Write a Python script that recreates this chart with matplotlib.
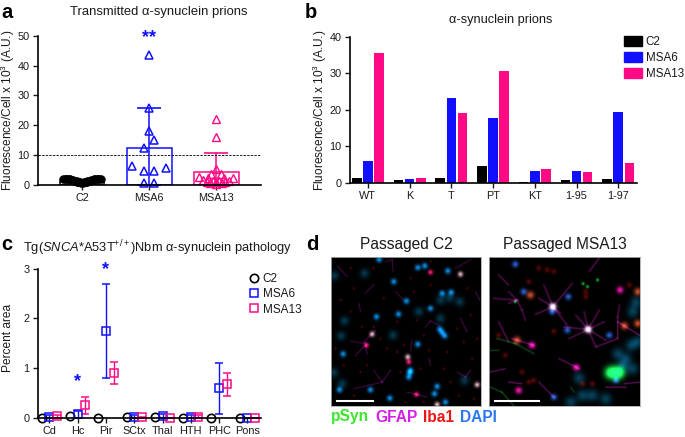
import numpy as np
import matplotlib
matplotlib.use("Agg")
import matplotlib.pyplot as plt
from matplotlib.lines import Line2D
from matplotlib.patches import Patch

plt.rcParams['font.family'] = ['Liberation Sans', 'DejaVu Sans']
plt.rcParams['mathtext.fontset'] = 'custom'
plt.rcParams['mathtext.rm'] = 'Liberation Sans'
plt.rcParams['mathtext.it'] = 'Liberation Sans:italic'
plt.rcParams['mathtext.default'] = 'regular'

BLACK = '#000000'
BLUE = '#1010FF'
PINK = '#FF0A84'
TXT = '#1a1a1a'

# panel a
a_groups = ['C2', 'MSA6', 'MSA13']
a_means = [1.4, 12.5, 4.3]
a_err_hi = [1.9, 25.7, 10.7]
c2_vals = [2.0, 2.1, 2.15, 2.1, 2.0, 1.9, 1.8, 1.6, 1.5, 1.3, 1.2, 1.1, 1.0, 0.9, 0.85, 0.8, 0.8, 0.85, 0.9, 1.0, 1.1, 1.2, 1.3, 1.5, 1.6, 1.8, 1.9, 2.0, 2.1, 2.15, 2.1, 2.0]
c2_off = [-0.28, -0.26, -0.24, -0.22, -0.2, -0.18, -0.16, -0.14, -0.12, -0.1, -0.08, -0.07, -0.06, -0.05, -0.03, -0.01, 0.01, 0.03, 0.05, 0.06, 0.07, 0.08, 0.1, 0.12, 0.14, 0.16, 0.18, 0.2, 0.22, 0.24, 0.26, 0.28]
msa6_vals = [43.5, 25.7, 18.2, 15.2, 12.5, 6.3, 5.8, 4.8, 4.8, 0.6, 0.6]
msa6_off = [0, 0, 0, 0.08, -0.08, -0.25, 0.25, -0.08, 0.08, -0.08, 0.08]
msa13_vals = [22, 16, 5.5, 3.7, 3.6, 2.6, 2.5, 2.4, 2.3, 1.6, 1.5, 1.3, 1.2, 1.1, 1.0, 0.9, 0.8, 0.6, 0.5]
msa13_off = [0, 0, 0, -0.07, 0.07, -0.25, 0.25, -0.12, 0.12, -0.19, 0.19, -0.05, 0.05, -0.14, 0.14, 0, -0.09, 0.09, 0]

# panel b
b_groups = ['WT', 'K', 'T', 'PT', 'KT', '1-95', '1-97']
b_c2 = [1.5, 0.9, 1.5, 4.6, 0.4, 0.8, 1.1]
b_msa6 = [5.9, 1.0, 23.3, 17.9, 3.4, 3.4, 19.4]
b_msa13 = [35.5, 1.3, 19.2, 30.6, 3.9, 3.0, 5.6]

# panel c
c_regions = ['Cd', 'Hc', 'Pir', 'SCtx', 'Thal', 'HTH', 'PHC', 'Pons']
c_c2 = [0.0, 0.03, 0.0, 0.02, 0.02, 0.0, 0.0, 0.0]
c_msa6 = [0.01, 0.07, 1.75, 0.02, 0.03, 0.02, 0.59, 0.0]
c_msa6_lo = [0.0, 0.0, 0.79, 0.0, 0.0, 0.0, 0.07, 0.0]
c_msa6_hi = [0.05, 0.14, 2.7, 0.05, 0.08, 0.06, 1.1, 0.0]
c_msa13 = [0.03, 0.25, 0.9, 0.01, 0.0, 0.02, 0.67, 0.0]
c_msa13_lo = [0.0, 0.08, 0.67, 0.0, 0.0, 0.0, 0.43, 0.0]
c_msa13_hi = [0.06, 0.42, 1.12, 0.02, 0.0, 0.05, 0.9, 0.0]

# panel d, spots (x, y in a 465 px crop)
l_blue = [(190,80),(228,138),(204,177),(300,160),(352,48),(362,112),(335,115),(262,267),(38,296),(120,403),(178,428),(312,415),(320,393),(27,403),(138,185),(262,38),(283,33),(146,14),(345,440),(240,345),(328,222),(335,232),(343,242),(235,365),(238,352)]
l_dim = [(12,62),(102,55),(42,197),(32,242),(188,240),(265,170),(388,140),(10,352),(402,375),(330,135),(358,128),(35,385),(330,190)]
l_pale = [(390,58),(125,237),(232,305),(440,388),(320,447)]
l_hot = [(235,320),(300,52),(258,417),(108,270)]
l_lines = [[(22,35),(50,65)],[(165,20),(185,15),(188,50)],[(130,90),(105,115)],[(195,110),(220,135)],[(285,215),(300,198),(325,210)],[(60,258),(105,265),(110,295)],[(100,260),(135,225)],[(105,270),(75,300)],[(245,255),(240,285)],[(130,345),(155,380),(180,345)],[(155,380),(70,400)],[(230,410),(290,425)],[(375,40),(420,15)],[(380,350),(405,365),(420,345)],[(435,110),(448,135)],[(390,190),(410,230)],[(295,310),(300,330)],[(85,145),(90,170)]]
l_red = [(70,100),(95,215),(130,215),(60,170),(170,280),(200,290),(220,270),(295,285),(350,290),(400,260),(425,310),(340,340),(270,340),(210,350),(90,350),(40,330),(15,280),(110,330),(160,130),(250,110),(300,90),(410,100),(420,180),(380,220),(280,240),(200,200),(30,135),(60,40),(300,20),(150,250),(70,420),(225,440),(280,440),(385,420),(430,430),(360,380),(260,195),(240,70),(130,40),(440,250)]

r_green = [(365,352),(388,352)]
r_green_dots = [(282,86),(295,95),(325,75),(80,140)]
r_green_lines = [[(25,250),(80,265),(135,295)],[(5,395),(40,410),(75,450)],[(5,285),(30,285)],[(245,395),(255,410)]]
r_white = [(192,155),(297,223)]
r_blue = [(190,170),(80,28),(238,125),(360,240),(235,225),(105,110),(195,425),(380,375)]
r_dim = [(385,295),(410,310),(430,340),(440,142),(430,170),(445,260),(270,368),(280,420),(310,420),(350,430),(245,440),(400,330),(425,270)]
r_magenta = [(392,105),(90,405),(262,336),(130,270)]
r_orange = [(125,120),(85,255),(445,205),(445,110),(405,212)]
r_lines = [[(192,155),(140,178)],[(192,155),(215,175)],[(192,155),(235,210)],[(192,155),(150,130)],[(192,155),(250,85)],[(192,155),(165,90)],[(297,223),(225,215)],[(297,223),(330,165)],[(297,223),(350,255)],[(297,223),(320,275)],[(297,223),(285,170)],[(297,223),(345,200)],[(297,223),(260,180)],[(297,223),(240,250)],[(320,275),(385,250),(385,185),(390,150)],[(385,200),(450,240)],[(85,135),(15,130)],[(85,135),(60,110)],[(85,135),(100,165),(110,195)],[(85,135),(60,145)],[(30,60),(60,90)],[(70,250),(135,270)],[(5,350),(50,340)],[(210,310),(270,340)],[(100,385),(60,380)],[(150,380),(195,425)],[(30,200),(60,260)],[(330,10),(300,50)],[(405,385),(450,380)],[(350,395),(410,395)]]
r_red = [(175,45),(120,80),(290,125),(120,380),(30,240),(310,385),(280,385),(420,90),(150,40),(195,50),(135,375),(195,228),(290,110),(50,300),(100,350)]


def px_axes(fig, x0, x1, y0, y1):
    # pixel box to figure fractions, y counted from the top
    W, H = fig.get_size_inches() * fig.dpi
    return fig.add_axes([x0 / W, 1 - y1 / H, (x1 - x0) / W, (y1 - y0) / H])


def style(ax):
    ax.spines['top'].set_visible(False)
    ax.spines['right'].set_visible(False)
    ax.spines['left'].set_linewidth(1.2)
    ax.spines['bottom'].set_linewidth(1.2)
    ax.tick_params(width=1.0, length=3.5, labelsize=7.8, colors=TXT, pad=2.5)


def add_spots(img, spots, color, sigma, gain=1.0):
    yy, xx = np.mgrid[0:155, 0:155]
    for x, y in spots:
        g = np.exp(-((xx - x / 3) ** 2 + (yy - y / 3) ** 2) / (2 * sigma ** 2)) * gain
        for c in range(3):
            img[:, :, c] += g * color[c]


def stroke_points(lines, step=4):
    pts = []
    for line in lines:
        for (x0, y0), (x1, y1) in zip(line[:-1], line[1:]):
            n = max(int(np.hypot(x1 - x0, y1 - y0) / step), 1)
            for t in np.linspace(0, 1, n + 1):
                pts.append((x0 + (x1 - x0) * t, y0 + (y1 - y0) * t))
    return pts


def left_image():
    img = np.zeros((155, 155, 3))
    add_spots(img, l_dim, (0.03, 0.3, 0.42), 3.2, 0.7)
    add_spots(img, l_blue, (0.05, 0.55, 0.9), 2.0)
    add_spots(img, l_red, (0.6, 0.04, 0.06), 0.8, 0.6)
    add_spots(img, stroke_points(l_lines), (0.65, 0.1, 0.65), 0.5, 0.4)
    add_spots(img, l_pale, (0.9, 0.7, 0.75), 1.8)
    add_spots(img, l_hot, (1.0, 0.1, 0.5), 1.7)
    return np.clip(img, 0, 1)


def right_image():
    img = np.zeros((155, 155, 3))
    add_spots(img, r_dim, (0.03, 0.3, 0.42), 4.0, 0.8)
    add_spots(img, r_red, (0.7, 0.06, 0.05), 1.8, 0.5)
    add_spots(img, stroke_points(r_lines), (0.8, 0.12, 0.75), 0.55, 0.45)
    add_spots(img, stroke_points(r_green_lines), (0.1, 0.6, 0.2), 0.55, 0.45)
    add_spots(img, r_blue, (0.2, 0.42, 0.95), 2.1, 0.9)
    add_spots(img, r_magenta, (0.95, 0.1, 0.7), 2.3)
    add_spots(img, r_orange, (0.95, 0.35, 0.2), 2.5, 0.85)
    add_spots(img, r_white, (1.0, 0.95, 1.0), 2.2, 1.3)
    add_spots(img, r_green_dots, (0.1, 0.85, 0.2), 1.0)
    add_spots(img, r_green, (0.1, 1.0, 0.35), 4.2, 1.3)
    return np.clip(img, 0, 1)


fig = plt.figure(figsize=(6.85, 4.37), dpi=100)

# a
ax = px_axes(fig, 38, 261, 35.7, 185)
style(ax)
xa = np.arange(3)
ax.bar(xa, a_means, width=0.67, facecolor='none', edgecolor=[BLACK, BLUE, PINK], linewidth=1.1)
for i, col in [(1, BLUE), (2, PINK)]:
    ax.errorbar([xa[i]], [a_means[i]], yerr=[[a_means[i]], [a_err_hi[i] - a_means[i]]], fmt='none',
                ecolor=col, elinewidth=1.1, capsize=8.5, capthick=1.2)
ax.plot(np.array(c2_off), c2_vals, 'o', ms=5.5, mfc=BLACK, mec=BLACK, mew=0.5, clip_on=False)
ax.plot(1 + np.array(msa6_off), msa6_vals, '^', ms=6, mfc='none', mec=BLUE, mew=1.1, clip_on=False)
ax.plot(2 + np.array(msa13_off), msa13_vals, '^', ms=6, mfc='none', mec=PINK, mew=1.0, clip_on=False)
ax.axhline(10, color='#222222', lw=0.7, ls=(0, (2.5, 1.2)))
ax.set_xlim(-0.657, 2.67)
ax.set_ylim(0, 50)
ax.set_xticks(xa, a_groups)
ax.set_yticks(range(0, 51, 10))
ax.set_ylabel('Fluorescence/Cell x $10^3$ (A.U.)', fontsize=8.6, color=TXT)
ax.yaxis.set_label_coords((17.5 - 38) / 223, 0.5)
ax.text(1, 49.2, '**', color=BLUE, fontsize=13, fontweight='bold', ha='center', va='center', clip_on=False)

# b
ax = px_axes(fig, 350, 637, 36.7, 183)
style(ax)
xb = np.arange(len(b_groups))
ax.bar(xb - 0.268, b_c2, 0.23, color=BLACK)
ax.bar(xb, b_msa6, 0.23, color=BLUE)
ax.bar(xb + 0.268, b_msa13, 0.23, color=PINK)
ax.set_xlim(-0.43, 6.45)
ax.set_ylim(0, 40)
ax.set_xticks(xb, b_groups)
ax.set_yticks(range(0, 41, 10))
ax.set_ylabel('Fluorescence/Cell x $10^3$ (A.U.)', fontsize=8.6, color=TXT)
ax.yaxis.set_label_coords((329 - 350) / 287, 0.5)
handles = [Patch(color=BLACK, label='C2'), Patch(color=BLUE, label='MSA6'), Patch(color=PINK, label='MSA13')]
fig.legend(handles=handles, loc='upper left', bbox_to_anchor=(624 / 685, 1 - 36 / 437), frameon=False,
           fontsize=8.4, handlelength=1.55, handleheight=1.0, handletextpad=0.3, labelspacing=0.32,
           borderpad=0, borderaxespad=0, labelcolor=TXT)

# c
ax = px_axes(fig, 38, 261, 268.7, 417.7)
style(ax)
xc = np.arange(len(c_regions))
ax.plot(xc - 0.27, c_c2, 'o', ms=6, mfc='none', mec=BLACK, mew=1.2, clip_on=False)
ax.errorbar(xc, c_msa6, yerr=[np.array(c_msa6) - c_msa6_lo, np.array(c_msa6_hi) - c_msa6], fmt='s', ms=6,
            mfc='none', mec=BLUE, mew=1.1, ecolor=BLUE, elinewidth=1.0, capsize=3.2, capthick=1.0,
            clip_on=False)
ax.errorbar(xc + 0.27, c_msa13, yerr=[np.array(c_msa13) - c_msa13_lo, np.array(c_msa13_hi) - c_msa13], fmt='s', ms=6,
            mfc='none', mec=PINK, mew=1.1, ecolor=PINK, elinewidth=1.0, capsize=3.2, capthick=1.0,
            clip_on=False)
ax.set_xlim(-0.4, 7.48)
ax.set_ylim(0, 3)
ax.set_xticks(xc, c_regions)
ax.set_yticks([0, 1, 2, 3])
ax.set_ylabel('Percent area', fontsize=8.6, color=TXT)
ax.yaxis.set_label_coords((14 - 38) / 223, (417.7 - 337.6) / 149)
ax.text(1, 0.72, '*', color=BLUE, fontsize=13, fontweight='bold', ha='center', va='center', clip_on=False)
ax.text(2, 2.99, '*', color=BLUE, fontsize=13, fontweight='bold', ha='center', va='center', clip_on=False)
c_handles = [Line2D([], [], marker='o', ms=6, mfc='none', mec=BLACK, mew=1.2, ls='none', label='C2'),
             Line2D([], [], marker='s', ms=6, mfc='none', mec=BLUE, mew=1.1, ls='none', label='MSA6'),
             Line2D([], [], marker='s', ms=6, mfc='none', mec=PINK, mew=1.1, ls='none', label='MSA13')]
fig.legend(handles=c_handles, loc='upper left', bbox_to_anchor=(249 / 685, 1 - 273 / 437), frameon=False,
           fontsize=8.5, handlelength=0.8, handletextpad=0.35, labelspacing=0.28, borderpad=0, borderaxespad=0,
           labelcolor=TXT, numpoints=1)

# d
for img, x0, x1, bar in [(left_image(), 331, 481, (20, 128)), (right_image(), 489, 640, (20, 152))]:
    ax = px_axes(fig, x0, x1, 256.7, 406)
    ax.imshow(img, extent=(0, 465, 465, 0), interpolation='bilinear', aspect='auto')
    ax.set_xlim(3, 453)
    ax.set_ylim(453, 5)
    ax.set_xticks([])
    ax.set_yticks([])
    for s in ax.spines.values():
        s.set_color('#aaaaaa')
        s.set_linewidth(0.6)
    ax.plot(bar, [439, 439], color='white', lw=1.5)

# titles and panel letters
W, H = 685.0, 437.0
def ftext(x, y, s, **kw):
    fig.text(x / W, 1 - y / H, s, **kw)

ftext(159, 12.5, 'Transmitted α-synuclein prions', fontsize=9.4, ha='center', va='center', color=TXT)
ftext(501, 20, 'α-synuclein prions', fontsize=9.2, ha='center', va='center', color=TXT)
ftext(158, 248, 'Tg($\\mathit{SNCA}$*A53T$^{+/+}$)Nbm α-synuclein pathology', fontsize=9.3, ha='center', va='center', color=TXT)
ftext(406, 245, 'Passaged C2', fontsize=11.2, ha='center', va='center', color=TXT)
ftext(565, 245, 'Passaged MSA13', fontsize=11.2, ha='center', va='center', color=TXT)
for x, y, s in [(1, 13, 'a'), (305, 12, 'b'), (1, 245, 'c'), (306, 245, 'd')]:
    ftext(x, y, s, fontsize=14.5, fontweight='bold', ha='left', va='center', color=BLACK)
for x, s, col in [(331, 'pSyn', '#3CE62D'), (375, 'GFAP', '#D41FE6'), (423, 'Iba1', '#F01414'), (460, 'DAPI', '#2A78F0')]:
    ftext(x, 417, s, fontsize=11.2, fontweight='bold', ha='left', va='center', color=col)

fig.savefig('out.png', dpi=100)
